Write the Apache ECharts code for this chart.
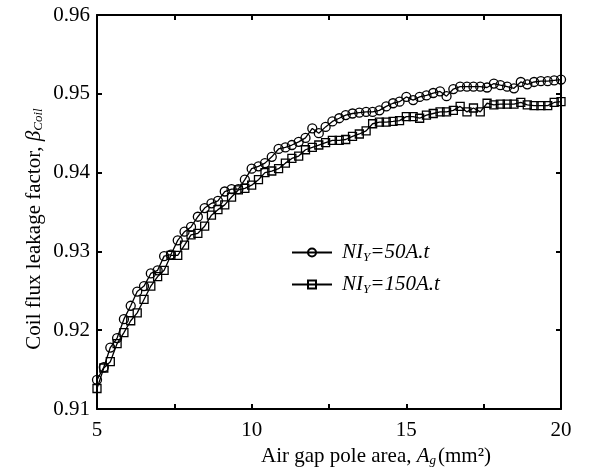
<!DOCTYPE html>
<html>
<head>
<meta charset="utf-8">
<script src="https://cdn.jsdelivr.net/npm/echarts@6/dist/echarts.min.js"></script>
<style>
html,body{margin:0;padding:0;background:#fff;}
#c{width:594px;height:472px;}
</style>
</head>
<body>
<div id="c"></div>
<script>
// Air gap pole area (mm^2)
const xValues = [5.00,5.22,5.43,5.65,5.87,6.09,6.30,6.52,6.74,6.96,7.17,7.39,7.61,7.83,8.04,8.26,8.48,8.70,8.91,9.13,9.35,9.57,9.78,10.00,10.22,10.43,10.65,10.87,11.09,11.30,11.52,11.74,11.96,12.17,12.39,12.61,12.83,13.04,13.26,13.48,13.70,13.91,14.13,14.35,14.57,14.78,15.00,15.22,15.43,15.65,15.87,16.09,16.30,16.52,16.74,16.96,17.17,17.39,17.61,17.83,18.04,18.26,18.48,18.70,18.91,19.13,19.35,19.57,19.78,20.00];
// NI_Y = 50 A.t (circles)
const beta50 = [0.9137,0.9153,0.9178,0.9190,0.9214,0.9231,0.9249,0.9256,0.9272,0.9276,0.9294,0.9296,0.9314,0.9325,0.9331,0.9344,0.9355,0.9361,0.9364,0.9376,0.9379,0.9379,0.9391,0.9405,0.9408,0.9412,0.9420,0.9430,0.9432,0.9435,0.9439,0.9444,0.9456,0.9450,0.9458,0.9465,0.9469,0.9473,0.9475,0.9476,0.9477,0.9477,0.9479,0.9484,0.9488,0.9490,0.9496,0.9492,0.9496,0.9498,0.9501,0.9503,0.9497,0.9506,0.9509,0.9509,0.9509,0.9509,0.9508,0.9513,0.9511,0.9509,0.9507,0.9515,0.9512,0.9515,0.9516,0.9516,0.9517,0.9518];
// NI_Y = 150 A.t (squares)
const beta150 = [0.9126,0.9152,0.9160,0.9183,0.9197,0.9212,0.9222,0.9239,0.9256,0.9268,0.9276,0.9295,0.9295,0.9308,0.9321,0.9323,0.9332,0.9346,0.9353,0.9359,0.9369,0.9378,0.9380,0.9384,0.9391,0.9400,0.9402,0.9405,0.9412,0.9418,0.9421,0.9429,0.9432,0.9435,0.9438,0.9441,0.9441,0.9442,0.9446,0.9449,0.9453,0.9462,0.9464,0.9464,0.9465,0.9466,0.9471,0.9471,0.9469,0.9473,0.9475,0.9477,0.9477,0.9479,0.9484,0.9477,0.9482,0.9477,0.9488,0.9486,0.9487,0.9487,0.9487,0.9489,0.9486,0.9485,0.9485,0.9485,0.9489,0.9490];
const seriesNames = ['50', '150'];
const xTickLabels = [5, 10, 15, 20];
const yTickLabels = [0.91, 0.92, 0.93, 0.94, 0.95, 0.96];

const FONT = "'Liberation Serif','Times New Roman',serif";
const pairs = (ys) => xValues.map((x, i) => [x, ys[i]]);

const axisCommon = {
  axisLine: {show: true, onZero: false, lineStyle: {color: '#000', width: 2}},
  axisTick: {show: true, inside: true, length: 5, lineStyle: {color: '#000', width: 2}},
  splitLine: {show: false}
};

const chart = echarts.init(document.getElementById('c'), null, {renderer: 'canvas'});
chart.setOption({
  backgroundColor: '#fff',
  animation: false,
  grid: {left: 97, right: 33, top: 15, bottom: 63, containLabel: false},
  xAxis: [
    Object.assign({
      type: 'value', position: 'bottom', min: 5, max: 20, interval: 2.5,
      axisLabel: {
        color: '#000', fontFamily: FONT, fontSize: 21, margin: 11,
        formatter: v => xTickLabels.indexOf(v) >= 0 ? String(v) : ''
      }
    }, axisCommon),
    Object.assign({
      type: 'value', position: 'top', min: 5, max: 20, interval: 2.5,
      axisLabel: {show: false}
    }, axisCommon)
  ],
  yAxis: [
    Object.assign({
      type: 'value', position: 'left', min: 0.91, max: 0.96, interval: 0.01,
      axisLabel: {
        color: '#000', fontFamily: FONT, fontSize: 21, margin: 7,
        formatter: v => {
          const r = Math.round(v * 100) / 100;
          return yTickLabels.indexOf(r) >= 0 ? r.toFixed(2) : '';
        }
      }
    }, axisCommon),
    Object.assign({
      type: 'value', position: 'right', min: 0.91, max: 0.96, interval: 0.01,
      axisLabel: {show: false}
    }, axisCommon)
  ],
  legend: {
    orient: 'vertical', left: 286, top: 236, itemWidth: 40, itemHeight: 10, itemGap: 9,
    data: seriesNames,
    formatter: n => '{i|NI}{s|Y}{i|=' + n + 'A.t}',
    textStyle: {
      color: '#000', fontFamily: FONT, padding: [0, 0, 0, 5],
      rich: {
        i: {fontFamily: FONT, fontStyle: 'italic', fontSize: 21, color: '#000', lineHeight: 24},
        s: {fontFamily: FONT, fontStyle: 'italic', fontSize: 13, color: '#000', padding: [10, 0, 0, 0], lineHeight: 24}
      }
    }
  },
  series: [
    {
      name: seriesNames[0], type: 'line', data: pairs(beta50),
      symbol: 'circle', symbolSize: 9, showSymbol: true,
      lineStyle: {color: '#000', width: 1.3},
      itemStyle: {color: 'rgba(0,0,0,0)', borderColor: '#000', borderWidth: 1.3}
    },
    {
      name: seriesNames[1], type: 'line', data: pairs(beta150),
      symbol: 'rect', symbolSize: 8, showSymbol: true,
      lineStyle: {color: '#000', width: 1.3},
      itemStyle: {color: 'rgba(0,0,0,0)', borderColor: '#000', borderWidth: 1.3}
    }
  ],
  graphic: [
    {
      type: 'text', x: 34, y: 229, rotation: Math.PI / 2,
      style: {
        text: '{n|Coil flux leakage factor, }{b|β}{s|Coil}',
        align: 'center', verticalAlign: 'middle',
        rich: {
          n: {fontFamily: FONT, fontSize: 21, fill: '#000', lineHeight: 24},
          b: {fontFamily: FONT, fontSize: 21, fontStyle: 'italic', fill: '#000', lineHeight: 24},
          s: {fontFamily: FONT, fontSize: 13, fontStyle: 'italic', fill: '#000', padding: [10, 0, 0, 0], lineHeight: 24}
        }
      }
    },
    {
      type: 'text', x: 376, y: 456,
      style: {
        text: '{n|Air gap pole area, }{a|A}{s|g}{n|(mm²)}',
        align: 'center', verticalAlign: 'middle',
        rich: {
          n: {fontFamily: FONT, fontSize: 21, fill: '#000', lineHeight: 24},
          a: {fontFamily: FONT, fontSize: 21, fontStyle: 'italic', fill: '#000', lineHeight: 24},
          s: {fontFamily: FONT, fontSize: 13, fontStyle: 'italic', fill: '#000', padding: [10, 2, 0, 0], lineHeight: 24}
        }
      }
    }
  ]
});
</script>
</body>
</html>
